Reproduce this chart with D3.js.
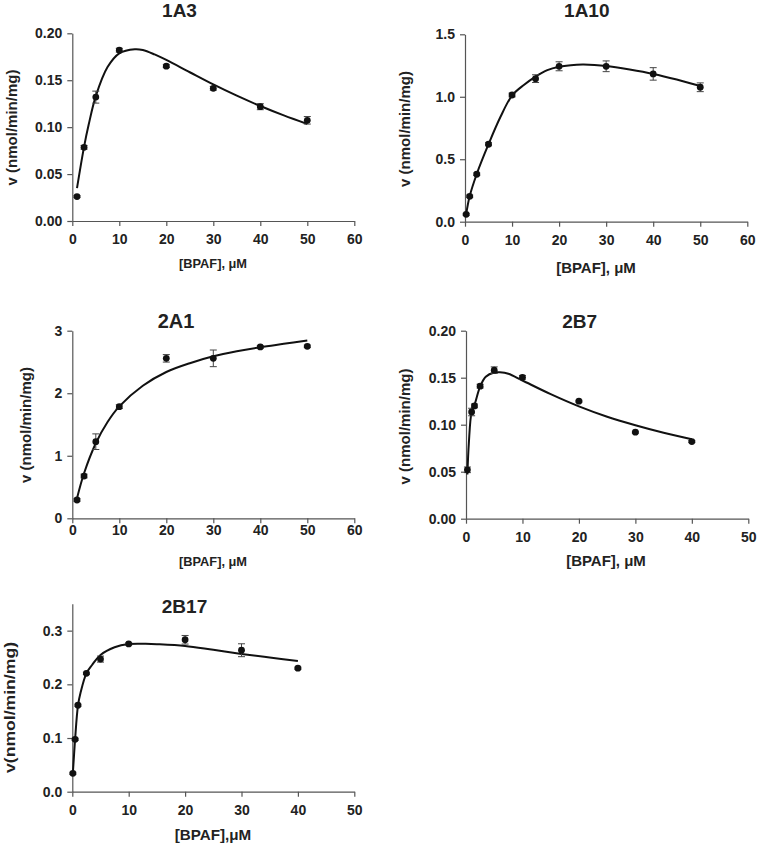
<!DOCTYPE html>
<html>
<head>
<meta charset="utf-8">
<script src="https://cdn.jsdelivr.net/npm/d3@7/dist/d3.min.js"></script>
<style>
  html, body { margin: 0; padding: 0; background: #fff; }
  svg { display: block; }
  text { font-family: "Liberation Sans", Arial, sans-serif; font-weight: bold; fill: #222; }
</style>
</head>
<body>
<svg id="chart" width="757" height="848"></svg>
<script>
// ---------------- DATA ----------------
const titles = ["1A3", "1A10", "2A1", "2B7", "2B17"];
const xLabels = ["[BPAF], μM", "[BPAF], μM", "[BPAF], μM", "[BPAF], μM", "[BPAF],μM"];
const yLabels = ["v (nmol/min/mg)", "v (nmol/min/mg)", "v (nmol/min/mg)", "v (nmol/min/mg)", "v(nmol/min/mg)"];

// 1A3
const s1A3 = [1, 2.5, 5, 10, 20, 30, 40, 50];
const v1A3 = [0.026, 0.0785, 0.132, 0.182, 0.165, 0.1414, 0.1218, 0.1073];
const e1A3 = [0.001, 0.002, 0.0064, 0.002, 0.0015, 0.002, 0.0032, 0.004];
const fitS1A3 = [1, 2.5, 3.5, 5, 7.5, 10, 13.3, 15, 17.5, 20, 25, 30, 35, 40, 45, 50];
const fitV1A3 = [0.035, 0.079, 0.103, 0.133, 0.164, 0.1787, 0.183, 0.1822, 0.1775, 0.1716, 0.1585, 0.1455, 0.1335, 0.1225, 0.1125, 0.1034];
const xTicks1A3 = [0, 10, 20, 30, 40, 50, 60];
const yTicks1A3 = [0, 0.05, 0.10, 0.15, 0.20];

// 1A10
const s1A10 = [0.25, 1, 2.5, 5, 10, 15, 20, 30, 40, 50];
const v1A10 = [0.059, 0.203, 0.38, 0.62, 1.014, 1.145, 1.244, 1.244, 1.183, 1.076];
const e1A10 = [0.008, 0.01, 0.01, 0.012, 0.015, 0.031, 0.036, 0.043, 0.05, 0.035];
const fitS1A10 = [0.25, 1, 2.5, 5, 7.5, 10, 12.5, 15, 17.5, 20, 22.5, 25, 27.5, 30, 35, 40, 45, 50];
const fitV1A10 = [0.06, 0.205, 0.382, 0.62, 0.836, 1.01, 1.094, 1.161, 1.213, 1.24, 1.253, 1.258, 1.255, 1.247, 1.218, 1.183, 1.138, 1.086];
const xTicks1A10 = [0, 10, 20, 30, 40, 50, 60];
const yTicks1A10 = [0, 0.5, 1.0, 1.5];

// 2A1
const s2A1 = [1, 2.5, 5, 10, 20, 30, 40, 50];
const v2A1 = [0.293, 0.676, 1.225, 1.785, 2.558, 2.558, 2.74, 2.75];
const e2A1 = [0.02, 0.03, 0.125, 0.03, 0.06, 0.133, 0.02, 0.02];
const fitS2A1 = [1, 2.5, 5, 7.5, 10, 15, 20, 25, 30, 35, 40, 45, 50];
const fitV2A1 = [0.32, 0.72, 1.2, 1.54, 1.79, 2.12, 2.34, 2.48, 2.59, 2.67, 2.735, 2.79, 2.845];
const xTicks2A1 = [0, 10, 20, 30, 40, 50, 60];
const yTicks2A1 = [0, 1, 2, 3];

// 2B7
const s2B7 = [0.25, 1, 1.5, 2.5, 5, 10, 20, 30, 40];
const v2B7 = [0.052, 0.1135, 0.12, 0.141, 0.158, 0.1504, 0.125, 0.092, 0.082];
const e2B7 = [0.003, 0.004, 0.002, 0.002, 0.0035, 0.002, 0.001, 0.001, 0.001];
const fitS2B7 = [0.25, 0.5, 1, 1.5, 2.5, 3.5, 5, 6, 7.5, 10, 15, 20, 25, 30, 35, 40];
const fitV2B7 = [0.047, 0.08, 0.1138, 0.121, 0.1405, 0.151, 0.1555, 0.1557, 0.1542, 0.147, 0.1325, 0.1195, 0.1085, 0.0995, 0.0915, 0.0845];
const xTicks2B7 = [0, 10, 20, 30, 40, 50];
const yTicks2B7 = [0, 0.05, 0.10, 0.15, 0.20];

// 2B17
const s2B17 = [0.1, 0.5, 1, 2.5, 5, 10, 20, 30, 40];
const v2B17 = [0.0343, 0.0976, 0.161, 0.2205, 0.247, 0.2752, 0.283, 0.2635, 0.23];
const e2B17 = [0.002, 0.002, 0.002, 0.002, 0.0056, 0.002, 0.008, 0.012, 0.002];
const fitS2B17 = [0.1, 0.25, 0.5, 1, 1.5, 2.5, 3.5, 5, 7.5, 10, 13, 15, 20, 25, 30, 35, 40];
const fitV2B17 = [0.035, 0.059, 0.098, 0.16, 0.186, 0.2205, 0.236, 0.2547, 0.269, 0.275, 0.2755, 0.2748, 0.2715, 0.2642, 0.2567, 0.25, 0.2435];
const xTicks2B17 = [0, 10, 20, 30, 40, 50];
const yTicks2B17 = [0, 0.1, 0.2, 0.3];

// ---------------- LAYOUT ----------------
const panels = [
  { s: s1A3, v: v1A3, e: e1A3, fs: fitS1A3, fv: fitV1A3, xt: xTicks1A3, yt: yTicks1A3,
    xd: [0, 60], yd: [0, 0.2], fmt: ".2f",
    x0: 72.3, x1: 354.3, y0: 221, y1: 33.3,
    tx: 179.5, ty: 17, tfs: 19, xlx: 213, xly: 268, xlfs: 12.8, ylx: 17, yly: 127.5, ylfs: 15, ylsx: 1, xpad: 8 },
  { s: s1A10, v: v1A10, e: e1A10, fs: fitS1A10, fv: fitV1A10, xt: xTicks1A10, yt: yTicks1A10,
    xd: [0, 60], yd: [0, 1.5], fmt: ".1f",
    x0: 465, x1: 747.3, y0: 221.7, y1: 34.3,
    tx: 586.8, ty: 17, tfs: 19, xlx: 596, xly: 273, xlfs: 15, ylx: 410, yly: 129, ylfs: 15, ylsx: 1, xpad: 8 },
  { s: s2A1, v: v2A1, e: e2A1, fs: fitS2A1, fv: fitV2A1, xt: xTicks2A1, yt: yTicks2A1,
    xd: [0, 60], yd: [0, 3], fmt: "d",
    x0: 72.3, x1: 354.3, y0: 518.3, y1: 330.7,
    tx: 176, ty: 328, tfs: 20, xlx: 213, xly: 566, xlfs: 12.8, ylx: 30.5, yly: 425, ylfs: 15, ylsx: 1, xpad: 1.3 },
  { s: s2B7, v: v2B7, e: e2B7, fs: fitS2B7, fv: fitV2B7, xt: xTicks2B7, yt: yTicks2B7,
    xd: [0, 50], yd: [0, 0.2], fmt: ".2f",
    x0: 466, x1: 748.3, y0: 518.7, y1: 330.7,
    tx: 579.7, ty: 328, tfs: 19, xlx: 606, xly: 566, xlfs: 15, ylx: 410, yly: 426.5, ylfs: 15, ylsx: 1, xpad: 8 },
  { s: s2B17, v: v2B17, e: e2B17, fs: fitS2B17, fv: fitV2B17, xt: xTicks2B17, yt: yTicks2B17,
    xd: [0, 50], yd: [0, 0.35], fmt: ".1f",
    x0: 72.3, x1: 354.3, y0: 791.7, y1: 603.8,
    tx: 184.5, ty: 613, tfs: 19, xlx: 213, xly: 840, xlfs: 15.2, ylx: 14.5, yly: 707.5, ylfs: 14.2, ylsx: 1.24, xpad: 8.6 }
];

const svg = d3.select("#chart");
const axisColor = "#555";
const tickFont = 14;

panels.forEach((p, i) => {
  const x = d3.scaleLinear().domain(p.xd).range([p.x0, p.x1]);
  const y = d3.scaleLinear().domain(p.yd).range([p.y0, p.y1]);
  const g = svg.append("g");

  // X axis
  const gx = g.append("g").attr("transform", `translate(0,${p.y0})`)
    .call(d3.axisBottom(x).tickValues(p.xt).tickFormat(d3.format("d"))
      .tickSize(5).tickSizeOuter(0).tickPadding(p.xpad));
  // Y axis
  const gy = g.append("g").attr("transform", `translate(${p.x0},0)`)
    .call(d3.axisLeft(y).tickValues(p.yt).tickFormat(d3.format(p.fmt))
      .tickSize(5).tickSizeOuter(0).tickPadding(5));

  [gx, gy].forEach(a => {
    a.select(".domain").attr("stroke", axisColor).attr("stroke-width", 1.2);
    a.selectAll(".tick line").attr("stroke", axisColor).attr("stroke-width", 1.2);
    a.selectAll(".tick text").attr("fill", "#222")
      .style("font-family", '"Liberation Sans", Arial, sans-serif')
      .style("font-weight", "bold").style("font-size", tickFont + "px");
  });

  // Title
  g.append("text").attr("x", p.tx).attr("y", p.ty).attr("text-anchor", "middle")
    .style("font-size", p.tfs + "px").text(titles[i]);
  // X label
  g.append("text").attr("x", p.xlx).attr("y", p.xly).attr("text-anchor", "middle")
    .style("font-size", p.xlfs + "px").text(xLabels[i]);
  // Y label
  g.append("text").attr("transform", `translate(${p.ylx},${p.yly}) rotate(-90) scale(${p.ylsx},1)`)
    .attr("text-anchor", "middle").style("font-size", p.ylfs + "px").text(yLabels[i]);

  // Fitted curve
  const fit = p.fs.map((s, k) => [s, p.fv[k]]);
  g.append("path").datum(fit)
    .attr("fill", "none").attr("stroke", "#111").attr("stroke-width", 2)
    .attr("d", d3.line().x(d => x(d[0])).y(d => y(d[1])).curve(d3.curveCatmullRom.alpha(0.5)));

  // Data points with error bars
  const pts = p.s.map((s, k) => ({ s, v: p.v[k], e: p.e[k] }));
  const eb = g.append("g").attr("stroke", "#444").attr("stroke-width", 1);
  pts.forEach(d => {
    const cx = x(d.s), yt = y(d.v + d.e), yb = y(d.v - d.e);
    eb.append("line").attr("x1", cx).attr("x2", cx).attr("y1", yt).attr("y2", yb);
    eb.append("line").attr("x1", cx - 3.5).attr("x2", cx + 3.5).attr("y1", yt).attr("y2", yt);
    eb.append("line").attr("x1", cx - 3.5).attr("x2", cx + 3.5).attr("y1", yb).attr("y2", yb);
  });
  g.append("g").selectAll("circle").data(pts).join("circle")
    .attr("cx", d => x(d.s)).attr("cy", d => y(d.v)).attr("r", 3.4).attr("fill", "#111");
});
</script>
</body>
</html>
